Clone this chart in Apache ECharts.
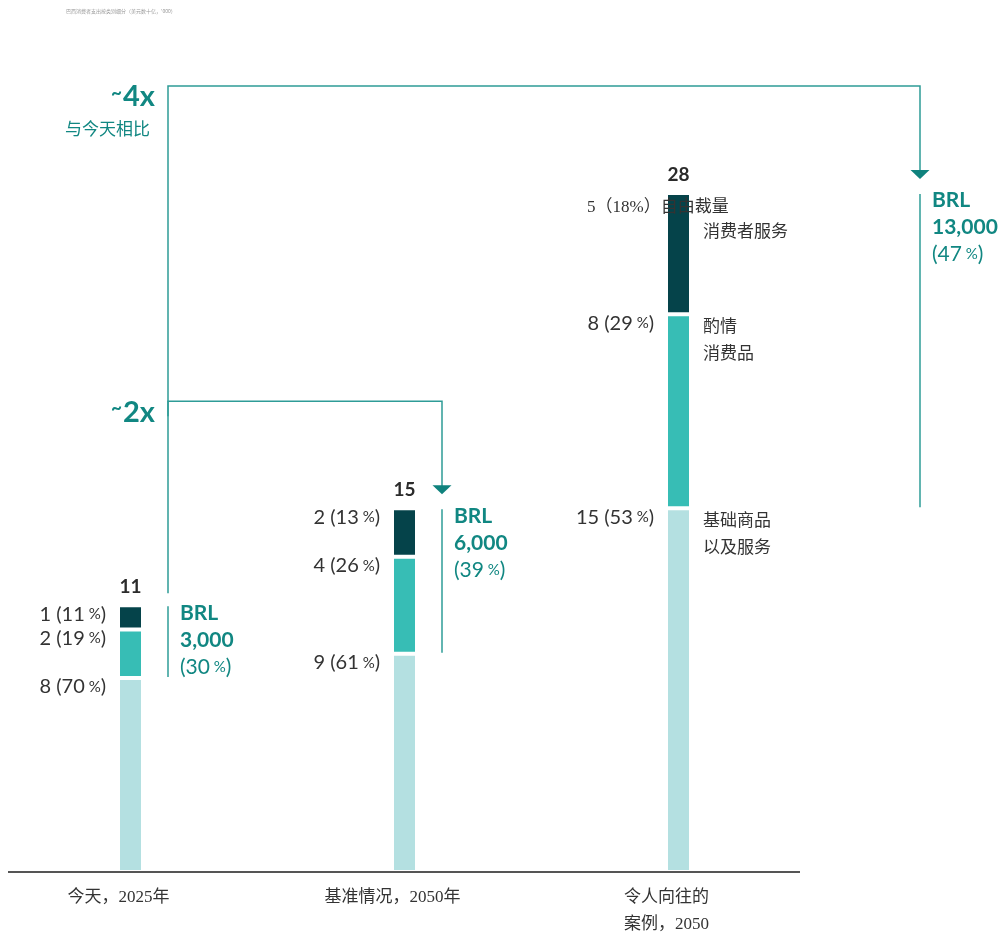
<!DOCTYPE html>
<html>
<head>
<meta charset="utf-8">
<script src="https://cdn.jsdelivr.net/npm/echarts@6/dist/echarts.min.js"></script>
<style>
  html, body { margin: 0; padding: 0; background: #fff; }
  #chart { width: 1001px; height: 934px; }
</style>
</head>
<body>
<div id="chart"></div>
<script>
// Household spending by segment (stacked), three scenarios
const categories = ['今天，2025年', '基准情况，2050年', '令人向往的\n案例，2050'];
const basicValues = [8, 9, 15];          // 基础商品以及服务
const goodsValues = [2, 4, 8];           // 酌情消费品
const servicesValues = [1, 2, 5];        // 自由裁量消费者服务
const totals = [11, 15, 28];
const basicShares = [70, 61, 53];
const goodsShares = [19, 26, 29];
const servicesShares = [11, 13, 18];
const incomeLabels = ['3,000', '6,000', '13,000'];
const discretionaryShares = [30, 39, 47];
const basicName = ['基础商品', '以及服务'];
const goodsName = ['酌情', '消费品'];
const servicesName = ['自由裁量', '消费者服务'];
// [from scenario, to scenario, multiplier, caption]
const comparisons = [[0, 1, '~2x', ''], [0, 2, '~4x', '与今天相比']];
const titleText = '巴西消费者支出按类别细分（美元数十亿，\'000）';

const C_DARK = '#05434a';
const C_MID = '#37bdb5';
const C_LIGHT = '#b4e0e1';
const TEAL = '#118782';
const LINE = '#2e9c97';
const ARROW = '#0f827d';
const INK = '#2b2b2b';
const SANS = 'Lato, "Noto Sans", "Noto Sans CJK SC", sans-serif';
const SERIF = '"Liberation Serif", "DejaVu Serif", "Noto Sans CJK SC", serif';
const CJK = '"Noto Sans CJK SC", sans-serif';

// horizontal offset (px) of the side bracket next to each bar
const sideOffsets = [37.5, 37.5, 241.5];

const leftRich = {
  n: { fontFamily: SANS, fontSize: 20, color: '#333' },
  p: { fontFamily: SANS, fontSize: 15, color: '#333' }
};

function leftLabel(shares) {
  return {
    show: true,
    position: [-12, 9],
    align: 'right',
    verticalAlign: 'middle',
    formatter: p => `{n|${p.value} (${shares[p.dataIndex]}}{p| %}{n|)}`,
    rich: leftRich
  };
}

function barSeries(name, values, color, shares) {
  return {
    name: name,
    type: 'bar',
    stack: 'spend',
    barWidth: 25,
    data: values.slice(),
    itemStyle: { color: color, borderColor: '#fff', borderWidth: 2 },
    label: leftLabel(shares),
    emphasis: { disabled: true },
    silent: true
  };
}

const servicesSeries = barSeries('services', servicesValues, C_DARK, servicesShares);
servicesSeries.data = servicesValues.map((v, i) => i === 2 ? {
  value: v,
  label: {
    position: [-79, 15],
    align: 'left',
    verticalAlign: 'middle',
    formatter: `${v}（${servicesShares[i]}%）${servicesName[0]}`,
    fontFamily: SERIF,
    fontSize: 17,
    color: '#333'
  }
} : v);

function renderAnnotation(params, api) {
  const i = api.value(0);
  const top = api.coord([i, api.value(1)]);
  const basicTop = api.coord([i, api.value(2)]);
  const goodsTop = api.coord([i, api.value(3)]);
  const x = top[0] + sideOffsets[i];
  const children = [
    {
      type: 'line',
      shape: { x1: x, y1: top[1] + 1, x2: x, y2: basicTop[1] - 1 },
      style: { stroke: LINE, lineWidth: 1.5 }
    },
    {
      type: 'text',
      x: x + 12,
      y: top[1] - 6,
      style: {
        text: `{b|BRL}\n{b|${incomeLabels[i]}}\n{r|(${discretionaryShares[i]}}{p| %}{r|)}`,
        verticalAlign: 'top',
        align: 'left',
        rich: {
          b: { fontFamily: SANS, fontSize: 21, fontWeight: 'bold', fill: TEAL, lineHeight: 27 },
          r: { fontFamily: SANS, fontSize: 21, fill: TEAL, lineHeight: 27 },
          p: { fontFamily: SANS, fontSize: 15, fill: TEAL, lineHeight: 27 }
        }
      }
    },
    {
      type: 'text',
      x: top[0],
      y: top[1] - 9,
      style: {
        text: String(api.value(1)),
        align: 'center',
        verticalAlign: 'bottom',
        fontFamily: SANS,
        fontSize: 19,
        fontWeight: 'bold',
        fill: INK
      }
    }
  ];
  if (i === 2) {
    const tx = top[0] + 24.5;
    const sideText = (text, y) => ({
      type: 'text',
      x: tx,
      y: y,
      style: {
        text: text,
        align: 'left',
        verticalAlign: 'top',
        fontFamily: SERIF,
        fontSize: 17,
        lineHeight: 27,
        fill: '#333'
      }
    });
    children.push(sideText(servicesName[1], top[1] + 26));
    children.push(sideText(goodsName.join('\n'), goodsTop[1]));
    children.push(sideText(basicName.join('\n'), basicTop[1]));
  }
  return { type: 'group', children: children };
}

function bracketLevel(k, api) {
  const to = comparisons[k][1];
  return api.coord([to, totals[to]])[1] - 107;
}

function renderBracket(params, api) {
  const k = params.dataIndex;
  const from = api.value(0);
  const to = api.value(1);
  const a = api.coord([from, api.value(2)]);
  const b = api.coord([to, api.value(3)]);
  const x1 = a[0] + sideOffsets[from];
  const x2 = b[0] + sideOffsets[to];
  const level = b[1] - 107;
  const bottom = k === 0 ? a[1] - 12 : bracketLevel(k - 1, api) + 15;
  const tip = b[1] - 14;
  const children = [
    {
      type: 'polyline',
      shape: { points: [[x1, bottom], [x1, level], [x2, level], [x2, tip - 8]] },
      style: { stroke: LINE, lineWidth: 1.5, fill: null }
    },
    {
      type: 'polygon',
      shape: { points: [[x2 - 9.5, tip - 9], [x2 + 9.5, tip - 9], [x2, tip]] },
      style: { fill: ARROW }
    },
    {
      type: 'text',
      x: x1 - 13,
      y: level + 11,
      style: {
        text: `{t|~}{m|${comparisons[k][2].replace('~', '')}}`,
        align: 'right',
        verticalAlign: 'middle',
        rich: {
          t: { fontFamily: SANS, fontSize: 19, fontWeight: 'bold', fill: TEAL, padding: [0, 1, 9, 0] },
          m: { fontFamily: SANS, fontSize: 29, fontWeight: 'bold', fill: TEAL }
        }
      }
    }
  ];
  if (comparisons[k][3]) {
    children.push({
      type: 'text',
      x: x1 - 18,
      y: level + 43,
      style: {
        text: comparisons[k][3],
        align: 'right',
        verticalAlign: 'middle',
        fontFamily: CJK,
        fontSize: 17,
        fill: TEAL
      }
    });
  }
  return { type: 'group', children: children };
}

const chart = echarts.init(document.getElementById('chart'), null, { renderer: 'canvas' });

chart.setOption({
  animation: false,
  backgroundColor: '#fff',
  grid: { left: 130.5, right: 322.5, top: 47.5, bottom: 62, outerBoundsMode: 'none', containLabel: false },
  xAxis: {
    type: 'category',
    data: categories,
    boundaryGap: false,
    axisLine: { show: false },
    axisTick: { show: false },
    axisLabel: {
      fontFamily: SERIF,
      fontSize: 17,
      color: '#333',
      lineHeight: 27,
      margin: 12,
      padding: [0, 24, 0, 0]
    },
    splitLine: { show: false }
  },
  yAxis: {
    type: 'value',
    min: 0,
    max: 34,
    show: false,
    splitLine: { show: false }
  },
  series: [
    barSeries('basic', basicValues, C_LIGHT, basicShares),
    barSeries('goods', goodsValues, C_MID, goodsShares),
    servicesSeries,
    {
      type: 'custom',
      clip: false,
      silent: true,
      renderItem: renderAnnotation,
      data: totals.map((t, i) => [i, t, basicValues[i], basicValues[i] + goodsValues[i]]),
      z: 5
    },
    {
      type: 'custom',
      clip: false,
      silent: true,
      renderItem: renderBracket,
      data: comparisons.map(c => [c[0], c[1], totals[c[0]], totals[c[1]]]),
      z: 5
    }
  ],
  graphic: [
    {
      type: 'text',
      left: 66,
      top: 9,
      style: { text: titleText, fontFamily: CJK, fontSize: 5, fill: '#9a9a9a' }
    },
    {
      type: 'line',
      shape: { x1: 8, y1: 872, x2: 800, y2: 872 },
      style: { stroke: '#555', lineWidth: 2 },
      z: 100
    }
  ]
});
</script>
</body>
</html>
